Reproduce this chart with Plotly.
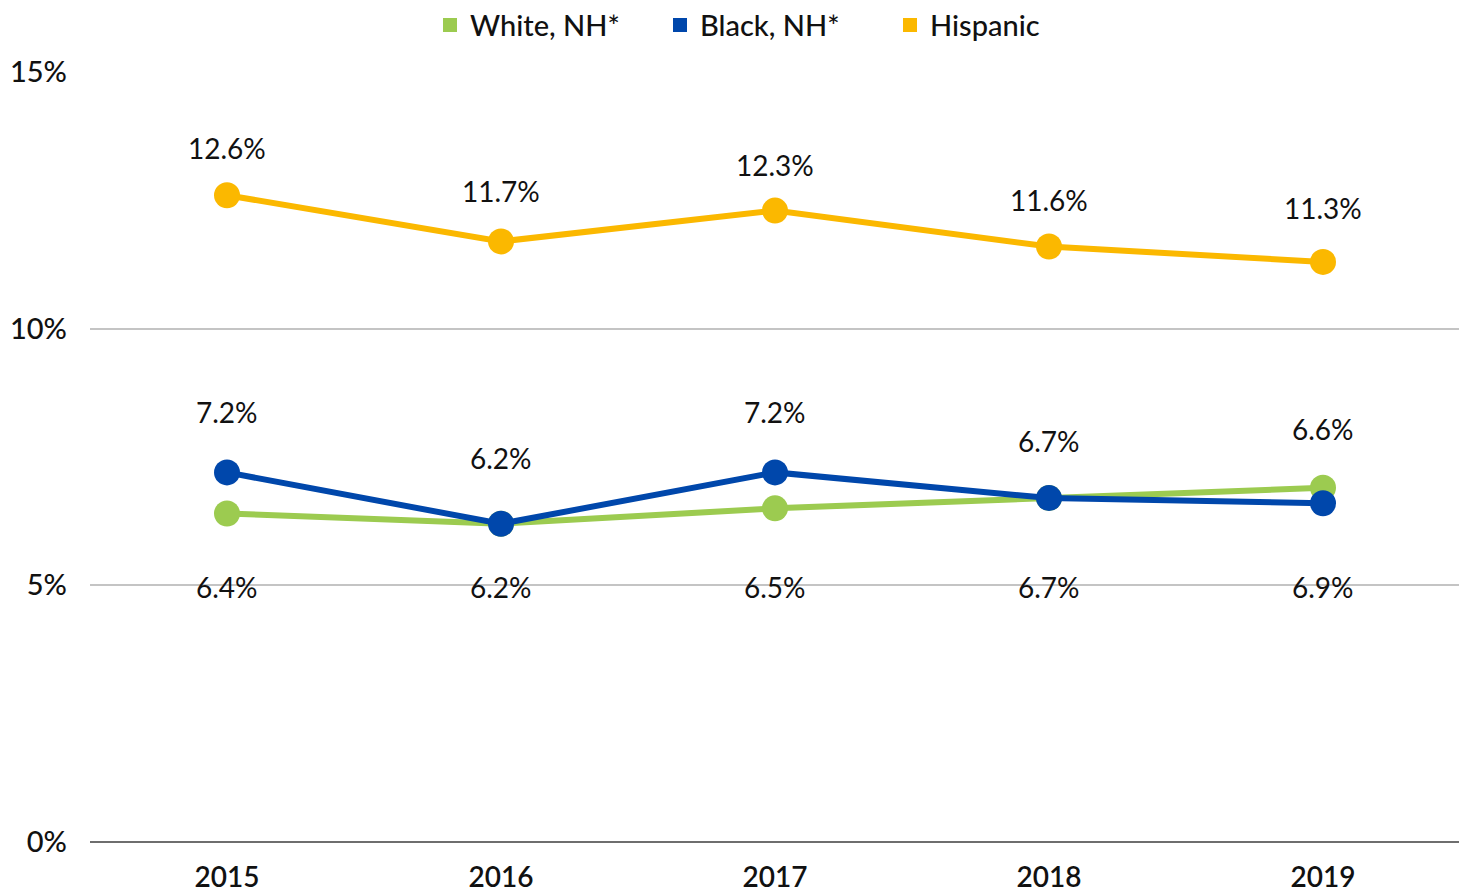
import plotly.graph_objects as go

# ---------------------------------------------------
# Data
# ---------------------------------------------------

YEARS = ["2015", "2016", "2017", "2018", "2019"]

WHITE = [6.4, 6.2, 6.5, 6.7, 6.9]
BLACK = [7.2, 6.2, 7.2, 6.7, 6.6]
HISPANIC = [12.6, 11.7, 12.3, 11.6, 11.3]

Y_TICKS = [0, 5, 10, 15]

COLORS = {
    "White, NH*": "#9CCB50",
    "Black, NH*": "#0047AB",
    "Hispanic": "#FBB800",
}

FONT = "Lato, 'Open Sans', sans-serif"

# label offsets in px (style only)
BLACK_SHIFT = [60, 66, 60, 57, 74]
HISP_SHIFT = [47, 50, 46, 47, 54]

fig = go.Figure()

series = [
    ("White, NH*", WHITE),
    ("Black, NH*", BLACK),
    ("Hispanic", HISPANIC),
]

for name, vals in series:
    fig.add_trace(
        go.Scatter(
            x=YEARS,
            y=vals,
            mode="lines+markers",
            name=name,
            line={"color": COLORS[name], "width": 6},
            marker={"color": COLORS[name], "size": 26},
            showlegend=False,
            hoverinfo="skip",
        )
    )
    # legend-only square swatch
    fig.add_trace(
        go.Scatter(
            x=[None],
            y=[None],
            mode="markers",
            name=name,
            marker={"color": COLORS[name], "size": 14, "symbol": "square"},
            showlegend=True,
        )
    )

label_font = {"size": 28, "color": "#111111", "family": FONT, "weight": 400}
annotations = []
for i, (v, s) in enumerate(zip(HISPANIC, HISP_SHIFT)):
    annotations.append(dict(x=i, y=v, text=f"{v}%", showarrow=False,
                            yshift=s, font=label_font))
for i, (v, s) in enumerate(zip(BLACK, BLACK_SHIFT)):
    annotations.append(dict(x=i, y=v, text=f"{v}%", showarrow=False,
                            yshift=s, font=label_font))
# white labels sit on the 5% gridline row
for i, v in enumerate(WHITE):
    annotations.append(dict(x=i, y=5, text=f"{v}%", showarrow=False,
                            yshift=-2, font=label_font))

# page body adds an 8px offset, margins compensate for it
fig.update_layout(
    width=1467,
    height=893,
    paper_bgcolor="white",
    plot_bgcolor="white",
    font={"family": FONT, "color": "#111111", "size": 28},
    margin={"l": 82, "r": 15, "t": 64, "b": 59, "autoexpand": False},
    annotations=annotations,
    legend={
        "orientation": "h",
        "x": 0.5,
        "xanchor": "center",
        "y": 1.061,
        "yanchor": "middle",
        "font": {"size": 29, "family": FONT, "color": "#111111", "weight": 500},
        "itemwidth": 30,
        "entrywidth": 185,
        "entrywidthmode": "pixels",
    },
)

fig.update_xaxes(
    type="category",
    range=[-0.5, 4.5],
    automargin=False,
    showgrid=False,
    showline=False,
    ticks="",
    tickfont={"size": 28, "family": FONT, "weight": 600},
    ticklabelstandoff=16,
)

fig.update_yaxes(
    range=[0, 15],
    automargin=False,
    tickvals=Y_TICKS,
    ticktext=[f"{t}%" for t in Y_TICKS],
    gridcolor="#C4C4C4",
    gridwidth=1.5,
    zeroline=True,
    zerolinecolor="#6E6E6E",
    zerolinewidth=2,
    ticks="",
    tickfont={"size": 29, "family": FONT, "weight": 500},
    ticklabelstandoff=22,
)

fig.write_html("out.html")
